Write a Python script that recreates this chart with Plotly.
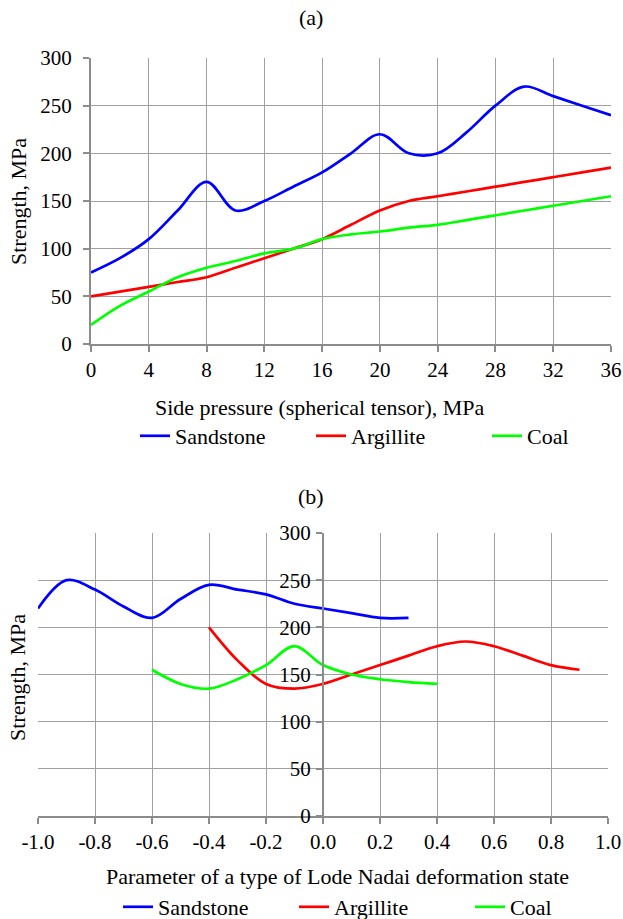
import plotly.graph_objects as go

# ---------- data: panel (a) ----------
a_x = [0, 2, 4, 6, 8, 10, 12, 14, 16, 18, 20, 22, 24, 26, 28, 30, 32, 34, 36]
a_sandstone = [75, 90, 110, 140, 170, 140, 150, 165, 180, 200, 220, 200, 200, 222, 250, 270, 260, 250, 240]
a_argillite = [50, 55, 60, 65, 70, 80, 90, 100, 110, 125, 140, 150, 155, 160, 165, 170, 175, 180, 185]
a_coal = [20, 40, 55, 70, 80, 87, 95, 100, 110, 115, 118, 122, 125, 130, 135, 140, 145, 150, 155]
a_xticks = [0, 4, 8, 12, 16, 20, 24, 28, 32, 36]

# ---------- data: panel (b) ----------
b_sand_x = [-1.0, -0.9, -0.8, -0.7, -0.6, -0.5, -0.4, -0.3, -0.2, -0.1, 0.0, 0.1, 0.2, 0.3]
b_sand_y = [220, 250, 240, 222, 210, 230, 245, 240, 235, 225, 220, 215, 210, 210]
b_arg_x = [-0.4, -0.3, -0.2, -0.1, 0.0, 0.1, 0.2, 0.3, 0.4, 0.5, 0.6, 0.7, 0.8, 0.9]
b_arg_y = [200, 165, 140, 135, 140, 150, 160, 170, 180, 185, 180, 170, 160, 155]
b_coal_x = [-0.6, -0.5, -0.4, -0.3, -0.2, -0.1, 0.0, 0.1, 0.2, 0.3, 0.4]
b_coal_y = [155, 140, 135, 145, 160, 180, 160, 150, 145, 142, 140]
b_xticks = [-1.0, -0.8, -0.6, -0.4, -0.2, 0.0, 0.2, 0.4, 0.6, 0.8, 1.0]
b_xticklabels = ["-1.0", "-0.8", "-0.6", "-0.4", "-0.2", "0.0", "0.2", "0.4", "0.6", "0.8", "1.0"]

y_ticks = [0, 50, 100, 150, 200, 250, 300]

names = ["Sandstone", "Argillite", "Coal"]
colors = ["#0000FF", "#FF0000", "#00FF00"]

W, H = 623, 919
FONT = "Liberation Serif, Times New Roman, serif"
GRID = "#a0a0a0"
AXL = "#8c8c8c"
TICK_SIZE = 21
TEXT_SIZE = 22


def px_x(p):
    return p / W


def px_y(p):
    return 1 - p / H


fig = go.Figure()

for name, col, ys in zip(names, colors, [a_sandstone, a_argillite, a_coal]):
    fig.add_trace(go.Scatter(x=a_x, y=ys, mode="lines", name=name,
                             line=dict(color=col, width=2.7, shape="spline", smoothing=1.0),
                             xaxis="x", yaxis="y", legend="legend"))

for name, col, xs, ys in zip(names, colors, [b_sand_x, b_arg_x, b_coal_x], [b_sand_y, b_arg_y, b_coal_y]):
    fig.add_trace(go.Scatter(x=xs, y=ys, mode="lines", name=name,
                             line=dict(color=col, width=2.7, shape="spline", smoothing=1.0),
                             xaxis="x2", yaxis="y2", legend="legend2"))

tickfont = dict(family=FONT, size=TICK_SIZE, color="black")
common = dict(showgrid=True, gridcolor=GRID, gridwidth=1, showline=True, linecolor=AXL,
              linewidth=2, ticks="outside", tickcolor=AXL, ticklen=6, tickwidth=1.5,
              tickfont=tickfont, zeroline=False, fixedrange=True, automargin=False,
              ticklabeloverflow="allow")

B_LEFT, B_RIGHT = 38, 608

fig.update_layout(
    template="none",
    width=W, height=H,
    margin=dict(l=0, r=0, t=0, b=0, autoexpand=False),
    paper_bgcolor="white", plot_bgcolor="white",
    font=dict(family=FONT, size=TEXT_SIZE, color="black"),
    xaxis=dict(domain=[px_x(91), px_x(611)], anchor="y", range=[0, 36],
               tickvals=a_xticks, ticklabelstandoff=0, **common),
    yaxis=dict(domain=[px_y(344), px_y(58)], anchor="x", range=[0, 300],
               tickvals=y_ticks, ticklabelstandoff=7, **common),
    xaxis2=dict(domain=[px_x(B_LEFT), px_x(B_RIGHT)], anchor="y2", range=[-1, 1],
                tickvals=b_xticks, ticktext=b_xticklabels, ticklabelstandoff=0, **common),
    yaxis2=dict(domain=[px_y(816), px_y(533)], anchor="free",
                position=px_x((B_LEFT + B_RIGHT) / 2), range=[0, 300],
                tickvals=y_ticks, ticklabelstandoff=1, **common),
    legend=dict(orientation="h", x=px_x(135), xanchor="left", y=px_y(436), yanchor="middle",
                font=dict(family=FONT, size=TEXT_SIZE), bgcolor="rgba(0,0,0,0)",
                itemwidth=30, entrywidth=131, entrywidthmode="pixels"),
    legend2=dict(orientation="h", x=px_x(118), xanchor="left", y=px_y(907), yanchor="middle",
                 font=dict(family=FONT, size=TEXT_SIZE), bgcolor="rgba(0,0,0,0)",
                 itemwidth=30, entrywidth=131, entrywidthmode="pixels"),
    showlegend=True,
)

ann_font = dict(family=FONT, size=TEXT_SIZE, color="black")
fig.add_annotation(text="(a)", x=px_x(311), y=px_y(18), xref="paper", yref="paper",
                   showarrow=False, font=ann_font, xanchor="center", yanchor="middle")
fig.add_annotation(text="(b)", x=px_x(311), y=px_y(496), xref="paper", yref="paper",
                   showarrow=False, font=ann_font, xanchor="center", yanchor="middle")
fig.add_annotation(text="Side pressure (spherical tensor), MPa", x=px_x(320), y=px_y(407),
                   xref="paper", yref="paper", showarrow=False, font=ann_font,
                   xanchor="center", yanchor="middle")
fig.add_annotation(text="Parameter of a type of Lode Nadai deformation state", x=px_x(337),
                   y=px_y(876), xref="paper", yref="paper", showarrow=False, font=ann_font,
                   xanchor="center", yanchor="middle")
fig.add_annotation(text="Strength, MPa", x=px_x(18), y=px_y(202), xref="paper", yref="paper",
                   showarrow=False, font=ann_font, textangle=-90,
                   xanchor="center", yanchor="middle")
fig.add_annotation(text="Strength, MPa", x=px_x(17), y=px_y(678), xref="paper", yref="paper",
                   showarrow=False, font=ann_font, textangle=-90,
                   xanchor="center", yanchor="middle")

fig.write_html("out.html", config={"displayModeBar": False},
               post_script="document.body.style.margin='0px';")
